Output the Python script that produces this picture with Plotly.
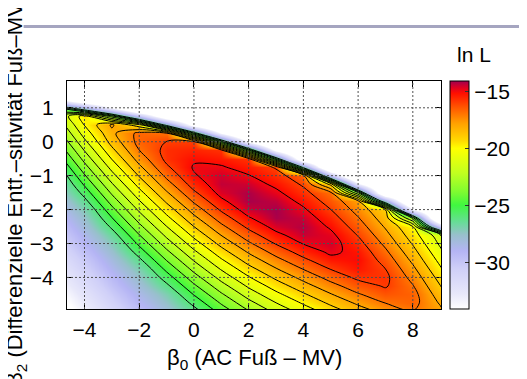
import plotly.graph_objects as go

# grid (estimated ln L values)
beta0 = [-5, -4, -3, -2, -1, 0, 1, 2, 3, 4, 5, 6, 7, 8, 9, 10]
beta2 = [-5.25, -5.0, -4.75, -4.5, -4.25, -4.0, -3.75, -3.5, -3.25, -3.0,
         -2.75, -2.5, -2.25, -2.0, -1.75, -1.5, -1.25, -1.0, -0.75, -0.5,
         -0.25, 0.0, 0.25, 0.5, 0.75, 1.0, 1.25, 1.5, 1.75, 2.0]

# one list per beta0 column, values from beta2=-5.25 upwards
lnL_b0_m5 = [-35.95, -35.42, -34.90, -34.37, -33.85, -33.32, -32.80, -32.28, -31.75, -31.23,
             -30.70, -30.19, -29.66, -29.14, -28.62, -28.10, -27.58, -27.06, -26.35, -25.61,
             -24.89, -24.16, -23.45, -22.75, -22.09, -23.96, -33.96, -40, -40, -40]
lnL_b0_m4 = [-33.86, -33.34, -32.81, -32.29, -31.76, -31.24, -30.71, -30.19, -29.66, -29.14,
             -28.61, -28.09, -27.57, -27.05, -26.32, -25.58, -24.84, -24.11, -23.38, -22.65,
             -21.94, -21.23, -20.56, -19.94, -19.48, -28.24, -38.24, -40, -40, -40]
lnL_b0_m3 = [-31.92, -31.40, -30.87, -30.35, -29.82, -29.30, -28.77, -28.25, -27.72, -27.20,
             -26.54, -25.79, -25.05, -24.31, -23.57, -22.83, -22.10, -21.37, -20.65, -19.94,
             -19.26, -18.62, -18.23, -17.86, -23.52, -33.52, -40, -40, -40, -40]
lnL_b0_m2 = [-30.16, -29.63, -29.11, -28.58, -28.06, -27.53, -27.01, -26.27, -25.52, -24.77,
             -24.03, -23.28, -22.54, -21.81, -21.07, -20.35, -19.62, -18.91, -18.22, -17.57,
             -17.01, -16.67, -16.73, -19.72, -29.72, -39.72, -40, -40, -40, -40]
lnL_b0_m1 = [-28.56, -28.04, -27.51, -26.98, -26.24, -25.49, -24.74, -23.99, -23.24, -22.50,
             -21.76, -21.02, -20.28, -19.56, -18.83, -18.12, -17.42, -16.76, -16.16, -15.74,
             -15.69, -15.98, -16.88, -26.88, -36.88, -40, -40, -40, -40, -40]
lnL_b0_0 = [-27.13, -26.43, -25.69, -24.94, -24.19, -23.44, -22.69, -21.95, -21.21, -20.47,
            -19.73, -19.00, -18.27, -17.56, -16.85, -16.17, -15.55, -15.08, -14.91, -15.14,
            -15.52, -15.94, -24.92, -34.92, -40, -40, -40, -40, -40, -40]
lnL_b0_1 = [-25.38, -24.63, -23.88, -23.14, -22.39, -21.64, -20.90, -20.16, -19.42, -18.69,
            -17.96, -17.24, -16.53, -15.85, -15.21, -14.68, -14.42, -14.55, -14.91, -15.33,
            -15.76, -23.92, -33.92, -40, -40, -40, -40, -40, -40, -40]
lnL_b0_2 = [-23.81, -23.06, -22.31, -21.57, -20.83, -20.09, -19.35, -18.61, -17.89, -17.16,
            -16.45, -15.76, -15.10, -14.53, -14.18, -14.22, -14.54, -14.95, -15.38, -15.81,
            -23.88, -33.88, -40, -40, -40, -40, -40, -40, -40, -40]
lnL_b0_3 = [-22.50, -21.75, -21.01, -20.27, -19.53, -18.80, -18.07, -17.34, -16.63, -15.93,
            -15.26, -14.66, -14.21, -14.13, -14.40, -14.80, -15.22, -15.66, -16.10, -24.72,
            -34.72, -40, -40, -40, -40, -40, -40, -40, -40, -40]
lnL_b0_4 = [-21.35, -20.61, -19.87, -19.14, -18.40, -17.68, -16.96, -16.25, -15.58, -14.95,
            -14.47, -14.27, -14.48, -14.86, -15.28, -15.71, -16.15, -16.60, -26.56, -36.56,
            -40, -40, -40, -40, -40, -40, -40, -40, -40, -40]
lnL_b0_5 = [-20.26, -19.53, -18.79, -18.07, -17.35, -16.64, -15.96, -15.32, -14.82, -14.59,
            -14.77, -15.14, -15.55, -15.99, -16.43, -16.87, -19.32, -29.32, -39.32, -40,
            -40, -40, -40, -40, -40, -40, -40, -40, -40, -40]
lnL_b0_6 = [-19.26, -18.53, -17.81, -17.10, -16.43, -15.79, -15.29, -15.08, -15.27, -15.64,
            -16.06, -16.49, -16.93, -17.38, -17.82, -22.96, -32.96, -40, -40, -40,
            -40, -40, -40, -40, -40, -40, -40, -40, -40, -40]
lnL_b0_7 = [-18.37, -17.66, -16.98, -16.37, -15.90, -15.76, -16.00, -16.38, -16.80, -17.24,
            -17.68, -18.12, -18.57, -19.01, -27.60, -37.60, -40, -40, -40, -40,
            -40, -40, -40, -40, -40, -40, -40, -40, -40, -40]
lnL_b0_8 = [-17.62, -17.03, -16.65, -16.63, -16.94, -17.34, -17.77, -18.21, -18.64, -19.09,
            -19.53, -19.98, -23.16, -33.16, -40, -40, -40, -40, -40, -40,
            -40, -40, -40, -40, -40, -40, -40, -40, -40, -40]
lnL_b0_9 = [-17.58, -17.74, -18.11, -18.52, -18.96, -19.39, -19.84, -20.28, -20.73, -21.18,
            -21.62, -29.68, -39.68, -40, -40, -40, -40, -40, -40, -40,
            -40, -40, -40, -40, -40, -40, -40, -40, -40, -40]
lnL_b0_10 = [-19.52, -19.95, -20.39, -20.82, -21.27, -21.71, -22.16, -22.61, -23.05, -27.08,
             -37.08, -40, -40, -40, -40, -40, -40, -40, -40, -40,
             -40, -40, -40, -40, -40, -40, -40, -40, -40, -40]

columns = [lnL_b0_m5, lnL_b0_m4, lnL_b0_m3, lnL_b0_m2, lnL_b0_m1, lnL_b0_0, lnL_b0_1,
           lnL_b0_2, lnL_b0_3, lnL_b0_4, lnL_b0_5, lnL_b0_6, lnL_b0_7, lnL_b0_8,
           lnL_b0_9, lnL_b0_10]
z = [[col[i] for col in columns] for i in range(len(beta2))]

x_ticks = [-4, -2, 0, 2, 4, 6, 8]
y_ticks = [-4, -3, -2, -1, 0, 1]
cb_ticks = [-30, -25, -20, -15]
contour_start, contour_end, contour_step = -26, -15, 1
z_min, z_max = -34.1, -14.1

# colour stops (ln L value, colour)
cs_values = [-34.1, -32.8, -30.6, -29.0, -27.6, -26.5, -25.0, -23.8, -22.2, -20.0,
             -19.3, -17.8, -16.3, -15.2, -14.7, -14.1]
cs_colors = ["#ffffff", "#e8e8fa", "#d0d0f8", "#b4b4f4", "#98c0cc", "#68dc98", "#40f840",
             "#80fc30", "#c0ff20", "#ffff00", "#ffd800", "#ffa000", "#ff5000",
             "#ff1000", "#e00020", "#a00050"]
colorscale = [[(v - z_min) / (z_max - z_min), c] for v, c in zip(cs_values, cs_colors)]

FONT = "Liberation Sans, Arial, Helvetica, sans-serif"

fig = go.Figure()
fig.add_trace(go.Heatmap(
    x=beta0, y=beta2, z=z, zmin=z_min, zmax=z_max, zsmooth="best",
    colorscale=colorscale, hoverinfo="skip",
    colorbar=dict(
        x=1.025, xanchor="left", xpad=0, y=0, yanchor="bottom", ypad=0,
        len=1.0, lenmode="fraction", thickness=19, thicknessmode="pixels",
        outlinewidth=1, outlinecolor="black",
        tickvals=cb_ticks, ticks="inside", ticklen=4, tickcolor="#333",
        tickfont=dict(family=FONT, size=21, color="black"),
    ),
))
fig.add_trace(go.Contour(
    x=beta0, y=beta2, z=z, showscale=False, hoverinfo="skip",
    contours=dict(start=contour_start, end=contour_end, size=contour_step, coloring="none"),
    line=dict(color="black", width=1, smoothing=1.0),
))

shapes = []
for t in x_ticks:
    shapes.append(dict(type="line", xref="x", yref="y domain", x0=t, x1=t, y0=0, y1=1,
                       line=dict(color="#505050", width=1, dash="2px,2px"), layer="above"))
for t in y_ticks:
    shapes.append(dict(type="line", xref="x domain", yref="y", x0=0, x1=1, y0=t, y1=t,
                       line=dict(color="#505050", width=1, dash="2px,2px"), layer="above"))
shapes.append(dict(type="line", xref="paper", yref="paper", x0=-0.116, x1=1.27,
                   y0=1.2388, y1=1.2388, line=dict(color="#a5a5c0", width=3), layer="below"))

axis_common = dict(ticks="inside", ticklen=6, tickcolor="black", tickwidth=1,
                   showline=True, linecolor="black", linewidth=1, mirror="allticks",
                   showgrid=False, zeroline=False,
                   tickfont=dict(family=FONT, size=21, color="black"))

fig.update_layout(
    width=527, height=379,
    margin=dict(l=59, r=94, t=73, b=78),
    paper_bgcolor="white", plot_bgcolor="white",
    showlegend=False,
    xaxis=dict(range=[-4.64, 9.03], tickvals=x_ticks, ticklabelstandoff=2, **axis_common),
    yaxis=dict(range=[-4.93, 1.79], tickvals=y_ticks, ticklabelstandoff=8, **axis_common),
    shapes=shapes,
    annotations=[
        dict(text="β<sub>0</sub> (AC Fuß – MV)", xref="paper", yref="paper",
             x=0.5, y=-0.22, xanchor="center", yanchor="middle", showarrow=False,
             font=dict(family=FONT, size=22, color="black")),
        dict(text="β<sub>2</sub> (Differenzielle Entf.–sitivität Fuß–MV)", xref="paper",
             yref="paper", x=-0.1365, y=0.522, xanchor="center", yanchor="middle",
             textangle=-90, showarrow=False,
             font=dict(family=FONT, size=22, color="black")),
        dict(text="ln L", xref="paper", yref="paper", x=1.0874, y=1.1157,
             xanchor="center", yanchor="middle", showarrow=False,
             font=dict(family=FONT, size=21, color="black")),
    ],
)

fig.write_html("out.html")
